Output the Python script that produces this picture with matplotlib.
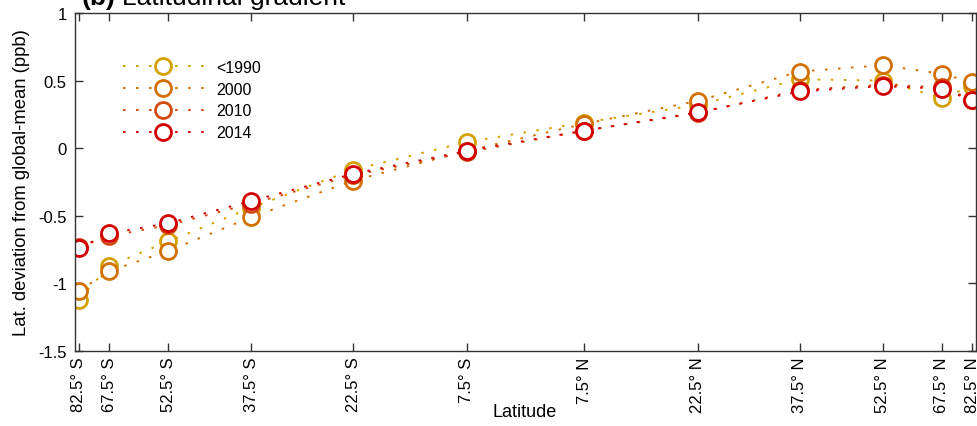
#!/usr/bin/env python3
"""
Latitudinal gradient panel (b): deviation of each latitude band from the
global mean, for several epochs. x axis is sine of latitude (area-weighted).
"""

# --- load libraries ---------------------------------------------------------
import numpy as np
import matplotlib
matplotlib.use("Agg")
import matplotlib.pyplot as plt

# --- data -------------------------------------------------------------------
LATS = [-82.5, -67.5, -52.5, -37.5, -22.5, -7.5, 7.5, 22.5, 37.5, 52.5, 67.5, 82.5]
LAT_LABELS = ["82.5° S", "67.5° S", "52.5° S", "37.5° S", "22.5° S", "7.5° S",
              "7.5° N", "22.5° N", "37.5° N", "52.5° N", "67.5° N", "82.5° N"]

SERIES_NAMES = ["<1990", "2000", "2010", "2014"]
DEV_PRE1990 = [-1.12, -0.87, -0.69, -0.44, -0.16, 0.045, 0.19, 0.32, 0.51, 0.50, 0.37, 0.46]
DEV_2000 = [-1.055, -0.91, -0.76, -0.51, -0.24, -0.02, 0.18, 0.35, 0.567, 0.614, 0.55, 0.49]
DEV_2010 = [-0.73, -0.65, -0.57, -0.41, -0.20, -0.03, 0.13, 0.26, 0.43, 0.47, 0.45, 0.36]
DEV_2014 = [-0.74, -0.63, -0.555, -0.39, -0.19, -0.02, 0.13, 0.265, 0.42, 0.46, 0.44, 0.355]

Y_TICKS = [-1.5, -1, -0.5, 0, 0.5, 1]
Y_TICK_LABELS = ["-1.5", "-1", "-0.5", "0", "0.5", "1"]

# --- style ------------------------------------------------------------------
COLOURS = ["#d4a000", "#d27000", "#d24a10", "#d20000"]
FONT = ["Liberation Sans", "DejaVu Sans"]
plt.rcParams["font.family"] = FONT
plt.rcParams["axes.unicode_minus"] = False

W, H = 978, 427


def main():
    fig = plt.figure(figsize=(W / 100, H / 100), dpi=100)
    ax = fig.add_axes([75 / W, 1 - 352 / H, 901 / W, 338 / H])

    x = np.sin(np.deg2rad(LATS))
    for name, ys, col in zip(SERIES_NAMES, [DEV_PRE1990, DEV_2000, DEV_2010, DEV_2014], COLOURS):
        ax.plot(x, ys, linestyle=(0, (1.3, 5.4)), linewidth=1.4, color=col,
                marker="o", markersize=11.5, markerfacecolor="white",
                markeredgecolor=col, markeredgewidth=2.0, label=name)

    ax.set_xlim(-1, 1)
    ax.set_ylim(-1.5, 1)
    ax.set_xticks(x)
    ax.set_xticklabels(LAT_LABELS, rotation=90, fontsize=12)
    ax.set_yticks(Y_TICKS)
    ax.set_yticklabels(Y_TICK_LABELS, fontsize=12)
    ax.tick_params(direction="in", top=True, right=True, length=6, width=1,
                   color="#333333")
    ax.tick_params(axis="y", pad=6)
    ax.tick_params(axis="x", pad=4)
    for sp in ax.spines.values():
        sp.set_color("#333333")
        sp.set_linewidth(1)

    ax.legend(loc="upper left", bbox_to_anchor=(0.053, 0.862), frameon=False,
              numpoints=1, handlelength=5.1, handletextpad=0.75,
              labelspacing=0.43, borderpad=0, borderaxespad=0, fontsize=11.5)

    fig.text(22 / W, 0.5 * (1 - 14 / H + 1 - 352 / H),
             "Lat. deviation from global-mean (ppb)", rotation=90,
             ha="center", va="center", fontsize=13.3)
    fig.text(525 / W, 1 - 413 / H, "Latitude", ha="center", va="center",
             fontsize=13)

    # title, partially cropped at the top as in the source figure
    fig.text(82 / W, 1 - 5 / H, "(b)", fontweight="bold", fontsize=19,
             ha="left", va="baseline")
    fig.text(122 / W, 1 - 5 / H, "Latitudinal gradient", fontsize=19,
             ha="left", va="baseline")

    fig.savefig("out.png", dpi=100, facecolor="white")
    plt.close(fig)


if __name__ == "__main__":
    main()
